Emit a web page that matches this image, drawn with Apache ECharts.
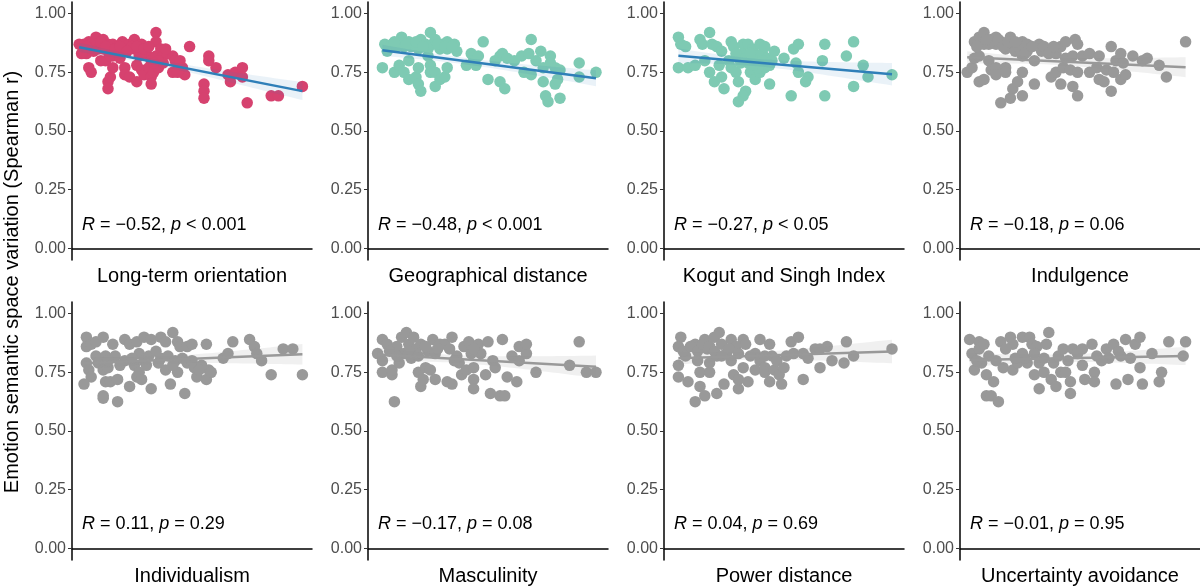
<!DOCTYPE html>
<html>
  <head>
    <meta charset="utf-8" />
    <title>Emotion semantic space variation</title>
    <script src="https://cdn.jsdelivr.net/npm/echarts@6/dist/echarts.min.js"></script>
    <style>
      html, body { margin: 0; padding: 0; background: #fff; }
      #main { width: 1200px; height: 588px; }
    </style>
  </head>
  <body>
    <div id="main"></div>
    <script>
      // panel titles and correlation labels
      var panelTitles = ['Long-term orientation', 'Geographical distance', 'Kogut and Singh Index', 'Indulgence',
        'Individualism', 'Masculinity', 'Power distance', 'Uncertainty avoidance']
      var corrR = ['\u22120.52', '\u22120.48', '\u22120.27', '\u22120.18', '0.11', '\u22120.17', '0.04', '\u22120.01']
      var corrP = ['< 0.001', '< 0.001', '< 0.05', '= 0.06', '= 0.29', '= 0.08', '= 0.69', '= 0.95']
      var yTicks = [0, 0.25, 0.5, 0.75, 1]

      // fitted line value at the left-most and right-most data point
      var fitLeft = [0.857, 0.844, 0.821, 0.814, 0.789, 0.826, 0.810, 0.803]
      var fitRight = [0.670, 0.725, 0.742, 0.772, 0.827, 0.774, 0.839, 0.820]

      // [x, Spearman r]
      var ltoPoints = [[5,0.87],[6,0.83],[7,0.88],[10,0.90],[10,0.87],[13,0.89],[13,0.85],[15,0.87],[15,0.84],[17,0.87],
        [17,0.82],[19,0.86],[21,0.88],[22,0.85],[24,0.87],[26,0.89],[26,0.85],[28,0.82],[29,0.87],[31,0.83],[33,0.80],
        [35,0.92],[35,0.88],[37,0.85],[35,0.82],[38,0.82],[3,0.87],[4,0.83],[8,0.87],[11,0.85],[19,0.84],[25,0.86],
        [7,0.77],[8,0.75],[12,0.80],[14,0.80],[15,0.71],[15,0.68],[16,0.73],[17,0.77],[22,0.77],[22,0.74],[24,0.73],
        [27,0.78],[27,0.71],[29,0.76],[30,0.74],[32,0.77],[33,0.73],[33,0.70],[34,0.75],[36,0.77],[38,0.79],[42,0.82],
        [43,0.80],[45,0.80],[46,0.77],[47,0.74],[42,0.75],[44,0.75],[49,0.86],[57,0.82],[57,0.80],[60,0.77],[55,0.70],
        [55,0.67],[55,0.64],[65,0.74],[66,0.71],[68,0.75],[71,0.77],[71,0.73],[73,0.62],[83,0.65],[86,0.65],[96,0.69],
        [9,0.84],[12,0.88],[14,0.86],[18,0.85],[20,0.86],[23,0.84],[27,0.86],[30,0.85],[32,0.86],[36,0.80],[6,0.86],
        [16,0.82],[20,0.81],[34,0.79],[39,0.85]]
      var geoPoints = [[7,0.87],[8,0.84],[10,0.87],[13,0.88],[14,0.90],[15,0.86],[17,0.88],[18,0.86],[19,0.87],[21,0.85],
        [22,0.89],[24,0.87],[25,0.85],[26,0.92],[27,0.87],[28,0.89],[30,0.85],[31,0.87],[33,0.88],[33,0.85],[36,0.87],
        [37,0.84],[48,0.88],[6,0.77],[11,0.75],[13,0.78],[15,0.75],[17,0.80],[17,0.72],[20,0.73],[21,0.77],[21,0.70],
        [22,0.67],[25,0.82],[26,0.78],[26,0.75],[28,0.69],[28,0.75],[30,0.72],[32,0.73],[33,0.77],[41,0.78],[43,0.83],
        [44,0.80],[46,0.82],[45,0.78],[50,0.72],[55,0.71],[57,0.68],[53,0.80],[55,0.82],[56,0.83],[58,0.81],[61,0.80],
        [64,0.82],[65,0.75],[67,0.83],[68,0.89],[68,0.74],[70,0.80],[72,0.84],[73,0.77],[73,0.71],[74,0.65],[75,0.625],
        [76,0.82],[76,0.79],[78,0.77],[78,0.70],[80,0.76],[80,0.64],[79,0.72],[88,0.79],[88,0.73],[95,0.75],
        [9,0.86],[12,0.86],[16,0.87],[20,0.88],[23,0.86],[29,0.87],[32,0.86],[35,0.86],[11,0.88]]
      var ksiPoints = [[6,0.90],[7,0.87],[9,0.86],[6,0.77],[10,0.77],[13,0.78],[15,0.89],[16,0.87],[19,0.92],[17,0.80],
        [20,0.87],[22,0.86],[24,0.84],[23,0.78],[19,0.75],[21,0.71],[24,0.73],[25,0.68],[27,0.80],[28,0.88],[29,0.86],
        [28,0.77],[30,0.75],[31,0.71],[31,0.81],[33,0.87],[33,0.83],[34,0.67],[33,0.65],[31,0.625],[35,0.87],[35,0.79],
        [36,0.75],[37,0.85],[38,0.82],[38,0.72],[39,0.79],[40,0.75],[40,0.87],[41,0.83],[42,0.77],[42,0.86],[43,0.81],
        [44,0.70],[45,0.80],[46,0.84],[50,0.81],[53,0.65],[54,0.85],[55,0.79],[56,0.87],[56,0.75],[60,0.73],[59,0.71],
        [66,0.80],[67,0.87],[67,0.65],[76,0.82],[79,0.88],[79,0.69],[83,0.78],[85,0.73],[95,0.74],
        [30,0.83],[32,0.79],[34,0.81],[36,0.83],[39,0.77],[41,0.80],[44,0.78],[37,0.78]]
      var indPoints = [[6,0.88],[8,0.90],[10,0.92],[10,0.87],[13,0.89],[15,0.90],[15,0.87],[17,0.88],[19,0.85],[21,0.90],
        [22,0.87],[23,0.84],[24,0.86],[26,0.82],[26,0.88],[28,0.87],[28,0.84],[33,0.87],[34,0.84],[38,0.85],[40,0.83],
        [42,0.86],[44,0.88],[48,0.89],[49,0.87],[63,0.86],[94,0.88],[3,0.75],[5,0.77],[6,0.81],[8,0.82],[8,0.71],
        [10,0.72],[12,0.80],[13,0.76],[15,0.77],[15,0.74],[19,0.77],[19,0.75],[22,0.68],[24,0.71],[21,0.64],[17,0.62],
        [26,0.65],[26,0.75],[31,0.80],[31,0.70],[38,0.73],[40,0.75],[42,0.70],[43,0.77],[44,0.81],[46,0.76],[47,0.82],
        [47,0.69],[49,0.75],[49,0.65],[51,0.82],[54,0.83],[54,0.75],[57,0.77],[58,0.82],[58,0.72],[60,0.71],[61,0.76],
        [63,0.67],[64,0.75],[65,0.80],[67,0.83],[67,0.72],[68,0.79],[69,0.74],[72,0.82],[76,0.80],[78,0.81],[83,0.78],
        [86,0.73],[7,0.86],[12,0.87],[16,0.89],[18,0.86],[20,0.88],[25,0.85],[27,0.83],[30,0.86],[35,0.86],[37,0.83],
        [39,0.86],[11,0.89],[23,0.88]]
      var idvPoints = [[6,0.90],[6,0.86],[8,0.87],[10,0.88],[13,0.90],[17,0.87],[22,0.89],[24,0.87],[27,0.88],[30,0.90],
        [33,0.89],[37,0.90],[39,0.88],[42,0.92],[44,0.88],[45,0.86],[48,0.86],[50,0.87],[56,0.87],[67,0.88],[74,0.89],
        [76,0.86],[88,0.85],[92,0.85],[6,0.79],[7,0.76],[8,0.73],[5,0.70],[10,0.82],[11,0.79],[13,0.76],[14,0.82],
        [15,0.77],[18,0.82],[14,0.71],[16,0.71],[19,0.72],[13,0.65],[13,0.64],[19,0.625],[22,0.80],[24,0.69],[26,0.78],
        [27,0.73],[28,0.83],[28,0.75],[29,0.72],[30,0.80],[32,0.82],[33,0.68],[35,0.84],[37,0.81],[39,0.76],[40,0.82],
        [41,0.70],[43,0.80],[44,0.75],[46,0.81],[47,0.66],[48,0.79],[50,0.80],[51,0.77],[52,0.73],[54,0.78],[56,0.72],
        [57,0.76],[58,0.75],[63,0.81],[65,0.83],[77,0.83],[79,0.80],[83,0.74],[96,0.74],
        [15,0.80],[20,0.78],[25,0.81],[31,0.78],[36,0.79],[42,0.78],[53,0.76]]
      var masPoints = [[6,0.89],[4,0.83],[6,0.80],[6,0.75],[8,0.87],[10,0.74],[10,0.76],[11,0.625],[12,0.86],[13,0.79],
        [14,0.90],[15,0.83],[16,0.92],[17,0.87],[18,0.81],[19,0.90],[20,0.85],[21,0.75],[22,0.69],[22,0.87],[23,0.72],
        [24,0.77],[25,0.84],[26,0.76],[27,0.89],[28,0.83],[28,0.72],[30,0.87],[32,0.87],[33,0.71],[35,0.70],[35,0.90],
        [37,0.82],[38,0.79],[39,0.74],[40,0.86],[41,0.76],[42,0.88],[43,0.83],[44,0.72],[44,0.68],[44,0.77],[46,0.87],
        [47,0.83],[49,0.74],[50,0.88],[51,0.66],[52,0.80],[53,0.77],[55,0.65],[56,0.89],[57,0.65],[58,0.73],[60,0.82],
        [62,0.71],[63,0.86],[63,0.80],[66,0.83],[66,0.87],[70,0.75],[84,0.78],[88,0.88],[91,0.75],[95,0.75],
        [9,0.84],[12,0.82],[17,0.84],[21,0.82],[24,0.86],[29,0.85],[34,0.85],[36,0.80],[44,0.85]]
      var pdiPoints = [[7,0.90],[6,0.86],[6,0.78],[6,0.73],[10,0.71],[9,0.82],[13,0.87],[13,0.625],[14,0.80],[15,0.69],
        [15,0.75],[17,0.89],[17,0.65],[18,0.85],[19,0.79],[19,0.75],[21,0.90],[22,0.66],[22,0.82],[23,0.92],[24,0.87],
        [25,0.70],[26,0.83],[28,0.89],[28,0.80],[29,0.74],[30,0.86],[31,0.68],[31,0.72],[33,0.89],[33,0.77],[34,0.87],
        [35,0.71],[38,0.76],[38,0.83],[40,0.89],[40,0.80],[42,0.77],[42,0.75],[44,0.71],[44,0.87],[45,0.82],[46,0.76],
        [47,0.80],[48,0.74],[49,0.70],[50,0.77],[51,0.82],[53,0.88],[54,0.83],[56,0.90],[58,0.72],[58,0.83],[60,0.81],
        [63,0.85],[65,0.77],[65,0.85],[68,0.86],[70,0.80],[75,0.79],[76,0.88],[79,0.82],[95,0.85],
        [8,0.84],[11,0.86],[14,0.84],[16,0.87],[19,0.86],[21,0.84],[24,0.82],[27,0.85],[31,0.83],[36,0.82],[42,0.82]]
      var uaiPoints = [[4,0.89],[5,0.83],[6,0.76],[8,0.88],[8,0.85],[9,0.79],[10,0.87],[11,0.74],[11,0.65],[13,0.65],
        [14,0.71],[15,0.80],[16,0.625],[17,0.88],[18,0.77],[21,0.90],[22,0.76],[22,0.87],[24,0.79],[26,0.83],[26,0.90],
        [28,0.79],[29,0.90],[30,0.87],[31,0.74],[32,0.86],[33,0.68],[33,0.79],[35,0.75],[36,0.87],[37,0.92],[38,0.72],
        [39,0.79],[40,0.69],[41,0.82],[42,0.75],[43,0.85],[44,0.75],[46,0.71],[46,0.66],[47,0.85],[51,0.85],[51,0.78],
        [52,0.72],[55,0.87],[56,0.75],[56,0.71],[57,0.82],[61,0.85],[62,0.81],[64,0.87],[65,0.70],[67,0.82],[69,0.89],
        [70,0.72],[71,0.81],[73,0.87],[75,0.90],[75,0.77],[76,0.70],[80,0.83],[83,0.71],[84,0.75],[87,0.88],[93,0.82],
        [94,0.88],[7,0.80],[12,0.82],[19,0.85],[23,0.81],[27,0.81],[31,0.83],[35,0.81],[45,0.80],[49,0.83],[59,0.80],
        [66,0.84]]

      var allPoints = [ltoPoints, geoPoints, ksiPoints, indPoints, idvPoints, masPoints, pdiPoints, uaiPoints]
      var pointColors = ['#d6426f', '#7ecab3', '#7ecab3', '#999999', '#999999', '#999999', '#999999', '#999999']
      var lineColors = ['#2f7fb8', '#2f7fb8', '#2f7fb8', '#999999', '#999999', '#999999', '#999999', '#999999']
      var bandColors = ['rgba(47,127,184,0.10)', 'rgba(47,127,184,0.10)', 'rgba(47,127,184,0.10)',
        'rgba(150,150,150,0.14)', 'rgba(150,150,150,0.14)', 'rgba(150,150,150,0.14)',
        'rgba(150,150,150,0.14)', 'rgba(150,150,150,0.14)']

      var font = '"Liberation Sans", Arial, Helvetica, sans-serif'
      var colLeft = [72, 368, 664, 960]
      var rowTop = [2, 302]
      var labelY = [225, 524]

      // line through the two read values and a 95% band from the residuals around it
      function fitPanel(pts, yl, yr) {
        var xs = pts.map(function(p) { return p[0] })
        var x0 = Math.min.apply(null, xs), x1 = Math.max.apply(null, xs)
        var slope = (yr - yl) / (x1 - x0)
        var pred = function(x) { return yl + slope * (x - x0) }
        var n = pts.length, mx = 0
        pts.forEach(function(p) { mx += p[0] / n })
        var sxx = 0, sse = 0
        pts.forEach(function(p) {
          sxx += (p[0] - mx) * (p[0] - mx)
          sse += Math.pow(p[1] - pred(p[0]), 2)
        })
        var s = Math.sqrt(sse / (n - 2))
        var band = []
        for (var k = 0; k <= 40; k++) {
          var x = x0 + (x1 - x0) * k / 40
          var h = 1.98 * s * Math.sqrt(1 / n + (x - mx) * (x - mx) / sxx)
          band.push([x, pred(x) - h, pred(x) + h])
        }
        return { line: [[x0, yl], [x1, yr]], band: band }
      }

      var grids = [], xAxes = [], yAxes = [], series = [], graphics = []
      allPoints.forEach(function(pts, i) {
        var row = Math.floor(i / 4), col = i % 4
        var fit = fitPanel(pts, fitLeft[i], fitRight[i])
        grids.push({ left: colLeft[col], top: rowTop[row], width: 240, height: 258 })
        xAxes.push({
          type: 'value', gridIndex: i, min: 0, max: 100,
          name: panelTitles[i], nameLocation: 'middle', nameGap: 6,
          nameTextStyle: { fontSize: 20, color: '#000', fontFamily: font, verticalAlign: 'top' },
          axisLine: { show: true, lineStyle: { color: '#000', width: 1.5 } },
          axisTick: { show: false }, axisLabel: { show: false }, splitLine: { show: false }
        })
        yAxes.push({
          type: 'value', gridIndex: i, min: -0.05, max: 1.05,
          axisLine: { show: true, lineStyle: { color: '#000', width: 1.5 } },
          axisTick: { show: true, length: 4, customValues: yTicks, lineStyle: { color: '#333' } },
          axisLabel: {
            customValues: yTicks, fontSize: 16, color: '#4d4d4d', fontFamily: font, margin: 6,
            formatter: function(v) { return v.toFixed(2) }
          },
          splitLine: { show: false }
        })
        series.push({
          type: 'scatter', xAxisIndex: i, yAxisIndex: i, data: pts, symbolSize: 11.5, z: 2,
          itemStyle: { color: pointColors[i], opacity: 1 }, silent: true
        })
        series.push({
          type: 'custom', xAxisIndex: i, yAxisIndex: i, data: fit.band, z: 3, silent: true,
          renderItem: function(params, api) {
            if (params.dataIndex !== 0) return
            var up = [], lo = []
            fit.band.forEach(function(b) {
              up.push(api.coord([b[0], b[2]]))
              lo.unshift(api.coord([b[0], b[1]]))
            })
            return { type: 'polygon', shape: { points: up.concat(lo) }, style: { fill: bandColors[i] } }
          }
        })
        series.push({
          type: 'line', xAxisIndex: i, yAxisIndex: i, data: fit.line, z: 4, silent: true,
          symbol: 'none', lineStyle: { color: lineColors[i], width: 2.5 }
        })
        graphics.push({
          type: 'text', x: colLeft[col] + 10, y: labelY[row],
          style: {
            text: '{i|R} = ' + corrR[i] + ', {i|p} ' + corrP[i],
            rich: { i: { fontStyle: 'italic', fontSize: 18, fontFamily: font, fill: '#000' } },
            fontSize: 18, fontFamily: font, fill: '#000', verticalAlign: 'middle'
          }
        })
      })
      graphics.push({
        type: 'text', x: 12, y: 282, rotation: Math.PI / 2,
        style: {
          text: 'Emotion semantic space variation (Spearman r)',
          fontSize: 20, fontFamily: font, fill: '#000', align: 'center', verticalAlign: 'middle'
        }
      })

      var myChart = echarts.init(document.getElementById('main'))
      myChart.setOption({
        animation: false,
        backgroundColor: '#fff',
        grid: grids, xAxis: xAxes, yAxis: yAxes, series: series, graphic: graphics
      })
    </script>
  </body>
</html>
